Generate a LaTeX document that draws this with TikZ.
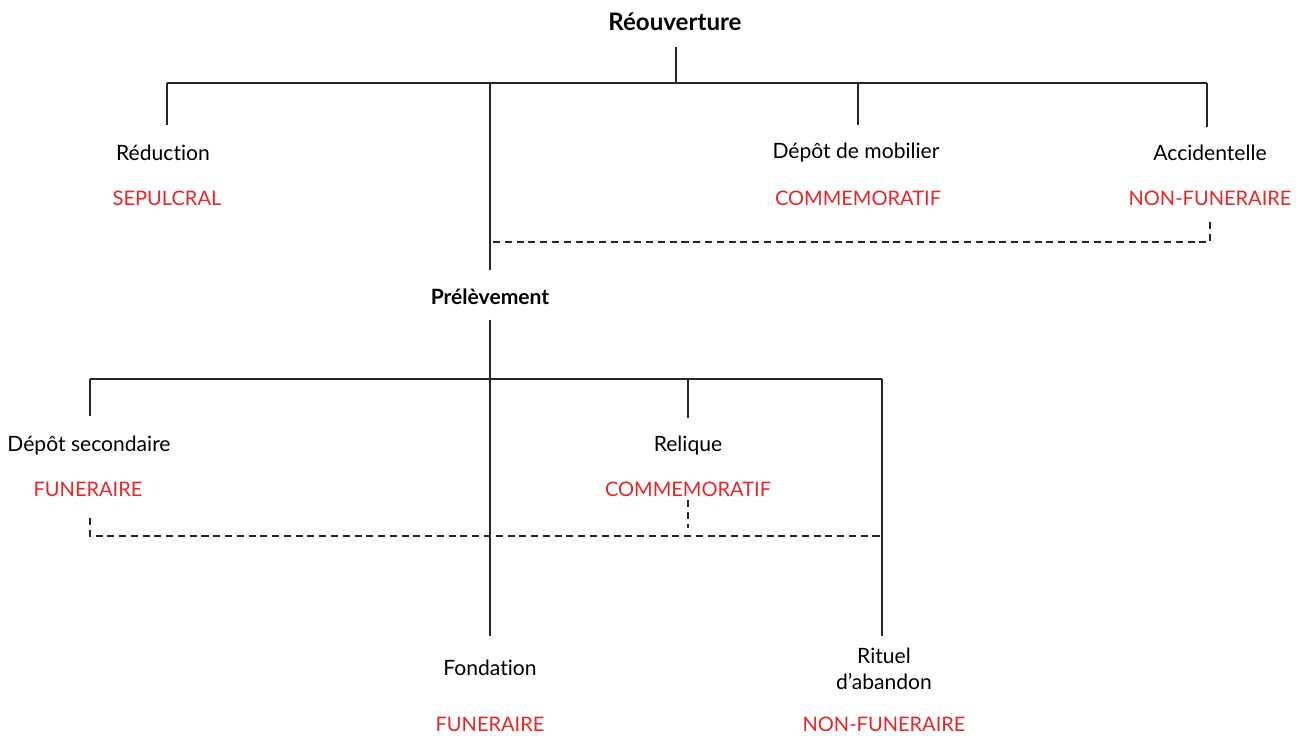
\documentclass[tikz,border=0pt]{standalone}
\usepackage{fontspec}
\setmainfont{Lato}[Ligatures=NoCommon]
\definecolor{labelred}{RGB}{232,38,38}
\begin{document}
\begin{tikzpicture}[
    x=0.02cm, y=-0.02cm,
    kind/.style={font=\fontsize{12}{15}\selectfont, inner sep=0pt, align=center},
    role/.style={kind, font=\fontsize{11.4}{14}\selectfont, text=labelred},
    head/.style={font=\fontsize{13.7}{16}\selectfont\bfseries, inner sep=0pt},
    link/.style={line width=0.85pt, draw=black!85},
    alt/.style={link, dash pattern=on 4pt off 2.7pt}
  ]
    \useasboundingbox (0,0) rectangle (1304,736);
    \node[head] (root) at (675,22) {Réouverture};
    \node[kind] (reduc) at (163,153) {Réduction};
    \node[role] (reducR) at (167,198) {SEPULCRAL};
    \node[kind] (depmob) at (856,153) {Dépôt de mobilier};
    \node[role] (depmobR) at (858,198) {COMMEMORATIF};
    \node[kind] (accid) at (1210,153) {Accidentelle};
    \node[role] (accidR) at (1210,198) {NON-FUNERAIRE};
    \node[head, font=\fontsize{12}{15}\selectfont\bfseries] (prelev) at (490,297) {Prélèvement};
    \node[kind] (depsec) at (89,446) {Dépôt secondaire};
    \node[role] (depsecR) at (88,489) {FUNERAIRE};
    \node[kind] (reliq) at (688,446) {Relique};
    \node[role] (reliqR) at (688,489) {COMMEMORATIF};
    \node[kind] (fond) at (490,668) {Fondation};
    \node[role] (fondR) at (490,724) {FUNERAIRE};
    \node[kind] (rituel) at (884,669) {Rituel\\d’abandon};
    \node[role] (rituelR) at (884,724) {NON-FUNERAIRE};
    \coordinate (rootS) at (676,47);
    \coordinate (bar) at (676,83);
    \coordinate (barL) at (167,83);
    \coordinate (barR) at (1207,83);
    \coordinate (barP) at (490,83);
    \coordinate (barM) at (858,83);
    \coordinate (reducT) at (167,125);
    \coordinate (depmobT) at (858,125);
    \coordinate (accidT) at (1207,127);
    \coordinate (prelevT) at (490,270);
    \coordinate (accidD) at (1210,222);
    \coordinate (accidJ) at (1210,242);
    \coordinate (prelevJ) at (490,242);
    \coordinate (prelevB) at (490,320);
    \coordinate (bar2L) at (90,379);
    \coordinate (bar2R) at (882,379);
    \coordinate (bar2M) at (688,379);
    \coordinate (depsecT) at (90,416);
    \coordinate (reliqT) at (688,418);
    \coordinate (fondT) at (490,636);
    \coordinate (rituelT) at (882,636);
    \coordinate (depsecD) at (90,518);
    \coordinate (depsecJ) at (90,536);
    \coordinate (rituelJ) at (882,536);
    \coordinate (reliqD) at (688,500);
    \coordinate (reliqJ) at (688,528);
    \draw[link] (rootS) -- (bar);
    \draw[link] (barL) -- (barR);
    \draw[link] (barL) -- (reducT);
    \draw[link] (barP) -- (prelevT);
    \draw[link] (barM) -- (depmobT);
    \draw[link] (barR) -- (accidT);
    \draw[alt] (accidD) -- (accidJ) -- (prelevJ);
    \draw[link] (prelevB) -- (fondT);
    \draw[link] (bar2L) -- (bar2R);
    \draw[link] (bar2L) -- (depsecT);
    \draw[link] (bar2M) -- (reliqT);
    \draw[link] (bar2R) -- (rituelT);
    \draw[alt] (depsecD) -- (depsecJ) -- (rituelJ);
    \draw[alt] (reliqD) -- (reliqJ);
  \end{tikzpicture}
\end{document}
